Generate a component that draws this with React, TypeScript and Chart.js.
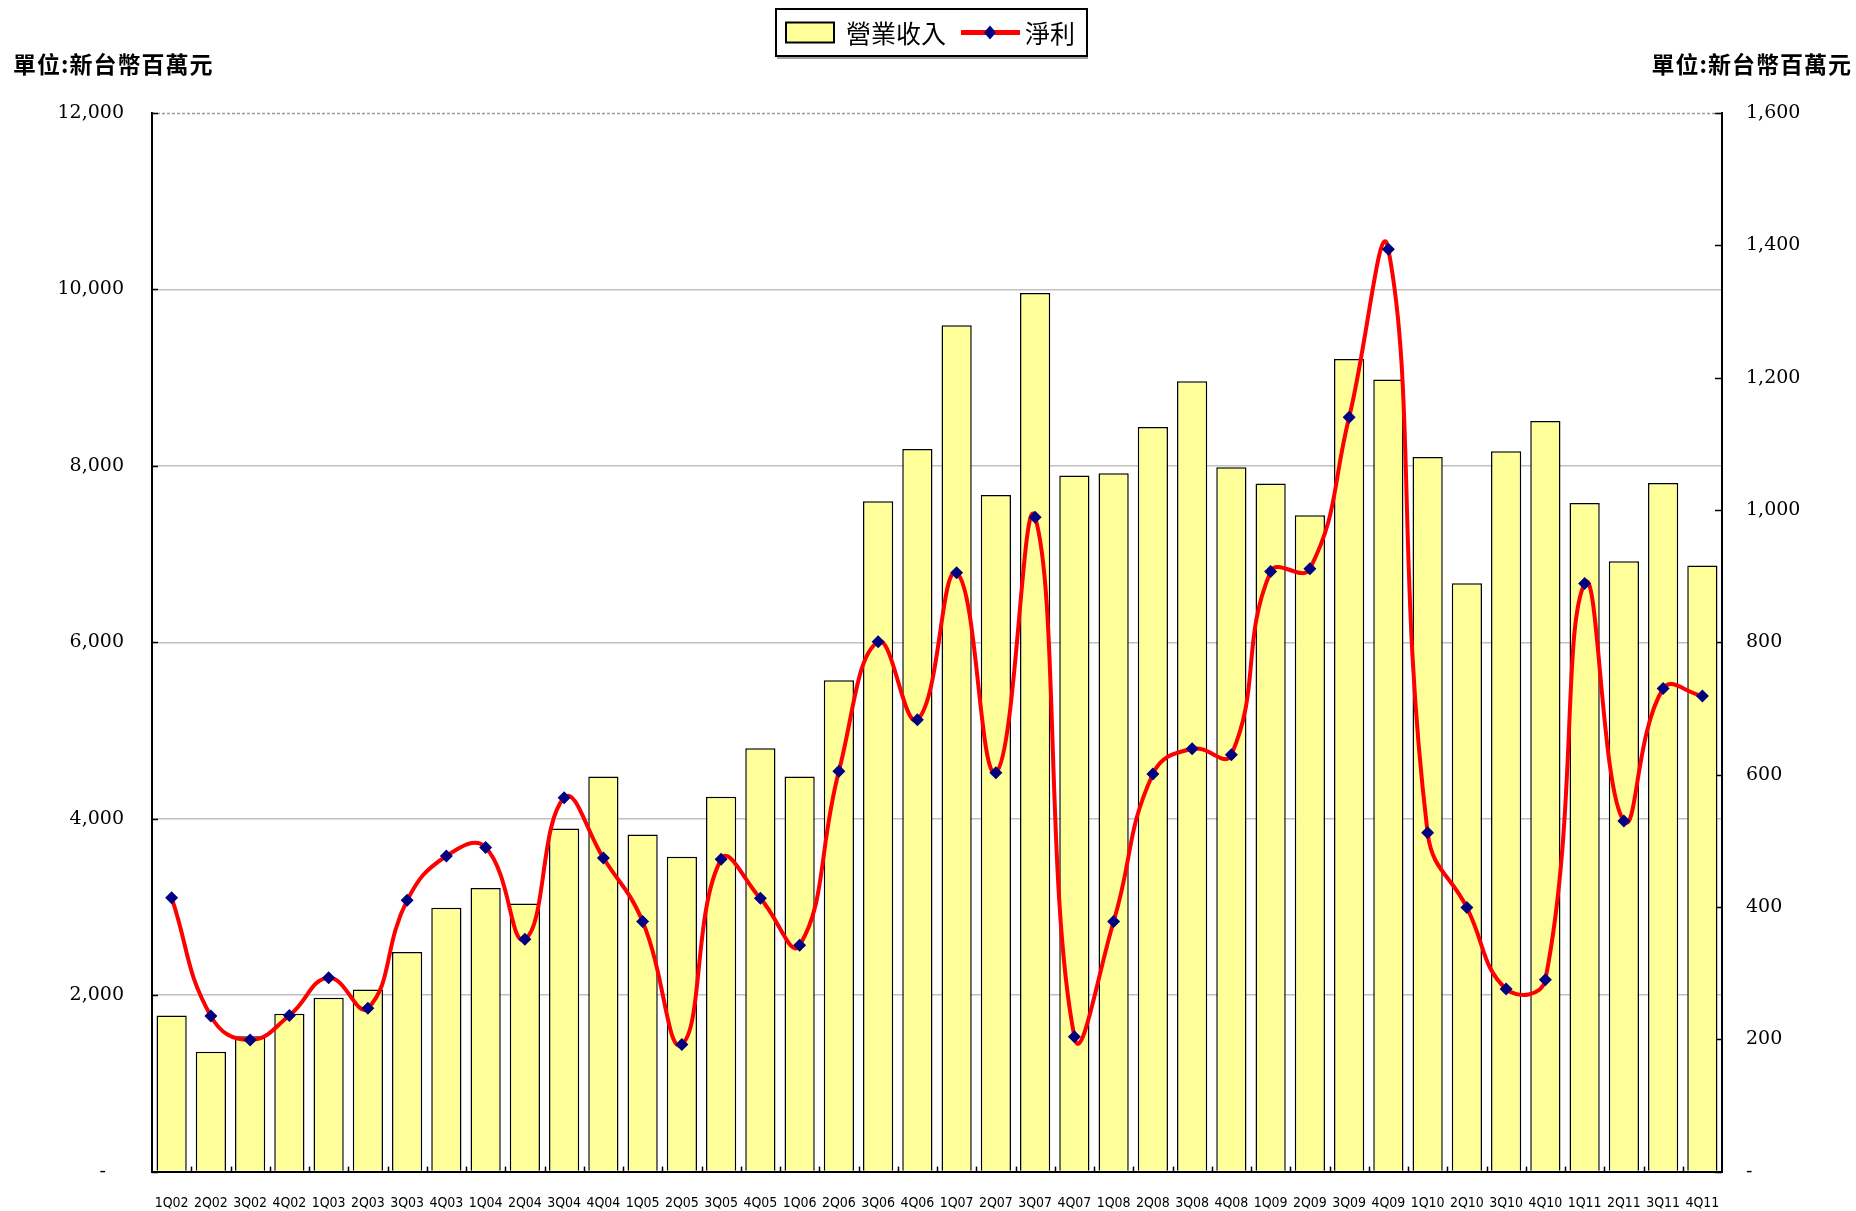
import React, { useEffect, useRef } from "react";
import { Chart, registerables } from "chart.js";

Chart.register(...registerables);

const categories = [
  "1Q02", "2Q02", "3Q02", "4Q02", "1Q03", "2Q03", "3Q03", "4Q03",
  "1Q04", "2Q04", "3Q04", "4Q04", "1Q05", "2Q05", "3Q05", "4Q05",
  "1Q06", "2Q06", "3Q06", "4Q06", "1Q07", "2Q07", "3Q07", "4Q07",
  "1Q08", "2Q08", "3Q08", "4Q08", "1Q09", "2Q09", "3Q09", "4Q09",
  "1Q10", "2Q10", "3Q10", "4Q10", "1Q11", "2Q11", "3Q11", "4Q11",
];

const revenue = [
  1770, 1360, 1535, 1790, 1970, 2065, 2490, 2990,
  3215, 3040, 3890, 4480, 3820, 3570, 4250, 4800,
  4480, 5570, 7600, 8190, 9595, 7670, 9960, 7890,
  7915, 8440, 8960, 7985, 7800, 7440, 9210, 8980,
  8100, 6670, 8165, 8510, 7580, 6920, 7805, 6870,
];

const netIncome = [
  414, 235, 199, 236, 293, 247, 410, 477,
  490, 351, 565, 474, 378, 192, 472, 413,
  342, 605, 801, 683, 905, 603, 989, 204,
  378, 601, 639, 630, 907, 911, 1140, 1394,
  512, 399, 276, 290, 889, 530, 730, 719,
];

const leftTicks = [0, 2000, 4000, 6000, 8000, 10000, 12000];
const rightTicks = [0, 200, 400, 600, 800, 1000, 1200, 1400, 1600];

const revenueLabel = "營業收入";
const netLabel = "淨利";
const unitLabel = "單位:新台幣百萬元";

const BAR_FILL = "#FFFF99";
const LINE_RED = "#FF0000";
const NAVY = "#000080";

const fmt = (v: number) => (v === 0 ? "-   " : v.toLocaleString("en-US"));

const decorPlugin = {
  id: "decor",
  beforeDatasetsDraw(chart: any) {
    const ctx = chart.ctx;
    const area = chart.chartArea;
    ctx.save();
    ctx.strokeStyle = "#999999";
    ctx.lineWidth = 1.5;
    ctx.setLineDash([3, 2]);
    ctx.beginPath();
    ctx.moveTo(area.left, area.top + 0.5);
    ctx.lineTo(area.right, area.top + 0.5);
    ctx.stroke();
    ctx.setLineDash([]);
    ctx.strokeStyle = "#000";
    ctx.lineWidth = 1.5;
    const yL = chart.scales.y;
    const yR = chart.scales.y1;
    const xS = chart.scales.x;
    leftTicks.forEach((t) => {
      const py = Math.round(yL.getPixelForValue(t)) + 0.5;
      ctx.beginPath();
      ctx.moveTo(area.left, py);
      ctx.lineTo(area.left + 6, py);
      ctx.stroke();
    });
    rightTicks.forEach((t) => {
      const py = Math.round(yR.getPixelForValue(t)) + 0.5;
      ctx.beginPath();
      ctx.moveTo(area.right - 7, py);
      ctx.lineTo(area.right, py);
      ctx.stroke();
    });
    const n = categories.length;
    const w = (area.right - area.left) / n;
    for (let i = 1; i < n; i++) {
      const px = Math.round(xS.left + i * w) + 0.5;
      ctx.beginPath();
      ctx.moveTo(px, area.bottom);
      ctx.lineTo(px, area.bottom - 5);
      ctx.stroke();
    }
    ctx.restore();
  },
  afterDraw(chart: any) {
    const ctx = chart.ctx;
    ctx.save();
    ctx.fillStyle = "#000";
    ctx.font = "bold 23px 'Noto Sans CJK TC', 'Noto Sans CJK SC', sans-serif";
    (ctx as any).letterSpacing = "1px";
    ctx.textBaseline = "middle";
    ctx.textAlign = "left";
    ctx.fillText(unitLabel, 13, 64);
    ctx.textAlign = "right";
    ctx.fillText(unitLabel, 1852, 64);
    (ctx as any).letterSpacing = "0px";

    const bx = 776, by = 9, bw = 311, bh = 47;
    ctx.fillStyle = "#fff";
    ctx.fillRect(bx, by, bw, bh);
    ctx.strokeStyle = "#000";
    ctx.lineWidth = 2;
    ctx.strokeRect(bx, by, bw, bh);
    ctx.strokeStyle = "#444";
    ctx.lineWidth = 1;
    ctx.beginPath();
    ctx.moveTo(bx + 1, by + bh + 2);
    ctx.lineTo(bx + bw + 1, by + bh + 2);
    ctx.stroke();

    const cy = by + bh / 2;
    ctx.fillStyle = BAR_FILL;
    ctx.fillRect(786, cy - 10, 48, 20);
    ctx.strokeStyle = "#000";
    ctx.lineWidth = 2;
    ctx.strokeRect(786, cy - 10, 48, 20);
    ctx.fillStyle = "#000";
    ctx.font = "25px 'Noto Sans CJK TC', 'Noto Sans CJK SC', sans-serif";
    ctx.textAlign = "left";
    ctx.textBaseline = "middle";
    ctx.fillText(revenueLabel, 846, cy + 1);
    ctx.strokeStyle = LINE_RED;
    ctx.lineWidth = 5;
    ctx.beginPath();
    ctx.moveTo(961, cy);
    ctx.lineTo(1020, cy);
    ctx.stroke();
    ctx.fillStyle = NAVY;
    ctx.beginPath();
    ctx.moveTo(990, cy - 7);
    ctx.lineTo(996, cy);
    ctx.lineTo(990, cy + 7);
    ctx.lineTo(984, cy);
    ctx.closePath();
    ctx.fill();
    ctx.fillStyle = "#000";
    ctx.fillText(netLabel, 1025, cy + 1);
    ctx.restore();
  },
};

export default function App() {
  const ref = useRef<HTMLCanvasElement | null>(null);

  useEffect(() => {
    if (!ref.current) return;
    const tickFont = { family: "'DejaVu Serif', 'Liberation Serif', serif", size: 19 };
    const chart = new Chart(ref.current, {
      type: "bar",
      data: {
        labels: categories,
        datasets: [
          {
            type: "line",
            label: netLabel,
            data: netIncome,
            yAxisID: "y1",
            borderColor: LINE_RED,
            borderWidth: 4,
            tension: 0.45,
            pointStyle: "rectRot",
            pointRadius: 6.5,
            pointBackgroundColor: NAVY,
            pointBorderColor: NAVY,
            pointBorderWidth: 0,
            fill: false,
            order: 0,
          } as any,
          {
            type: "bar",
            label: revenueLabel,
            data: revenue,
            yAxisID: "y",
            backgroundColor: BAR_FILL,
            borderColor: "#000",
            borderWidth: 1.5,
            categoryPercentage: 1,
            barPercentage: 0.77,
            order: 1,
          } as any,
        ],
      },
      options: {
        animation: false,
        responsive: false,
        devicePixelRatio: 1,
        layout: { padding: { top: 113, left: 0, right: 0, bottom: 0 } },
        plugins: {
          legend: { display: false },
          tooltip: { enabled: false },
          title: { display: false },
        },
        scales: {
          x: {
            type: "category",
            offset: true,
            grid: { display: false, drawTicks: false },
            border: { color: "#000", width: 2 },
            ticks: {
              color: "#000",
              font: { family: "'DejaVu Sans Condensed', 'Liberation Sans Narrow', 'DejaVu Sans', sans-serif", size: 14 },
              maxRotation: 0,
              minRotation: 0,
              autoSkip: false,
              padding: 23,
            },
            afterFit: (s: any) => {
              s.height = 39;
            },
          },
          y: {
            position: "left",
            min: 0,
            max: 12000,
            grid: { color: "#C0C0C0", lineWidth: (c: any) => (c.tick && c.tick.value === 12000 ? 0 : 1.5), drawTicks: false },
            border: { color: "#000", width: 2 },
            ticks: {
              stepSize: 2000,
              color: "#000",
              font: tickFont,
              padding: 28,
              callback: (v: any) => fmt(Number(v)),
            },
            afterFit: (s: any) => {
              s.width = 152;
            },
          },
          y1: {
            position: "right",
            min: 0,
            max: 1600,
            grid: { drawOnChartArea: false, drawTicks: false },
            border: { color: "#000", width: 2 },
            ticks: {
              stepSize: 200,
              color: "#000",
              font: tickFont,
              padding: 24,
              callback: (v: any) => (Number(v) === 0 ? "-" : Number(v).toLocaleString("en-US")),
            },
            afterFit: (s: any) => {
              s.width = 134;
            },
          },
        },
      } as any,
      plugins: [decorPlugin],
    });
    return () => chart.destroy();
  }, []);

  return (
    <div style={{ position: "fixed", left: 0, top: 0, width: 1856, height: 1211, background: "#fff" }}>
      <canvas ref={ref} width={1856} height={1211} style={{ width: 1856, height: 1211, display: "block" }} />
    </div>
  );
}
